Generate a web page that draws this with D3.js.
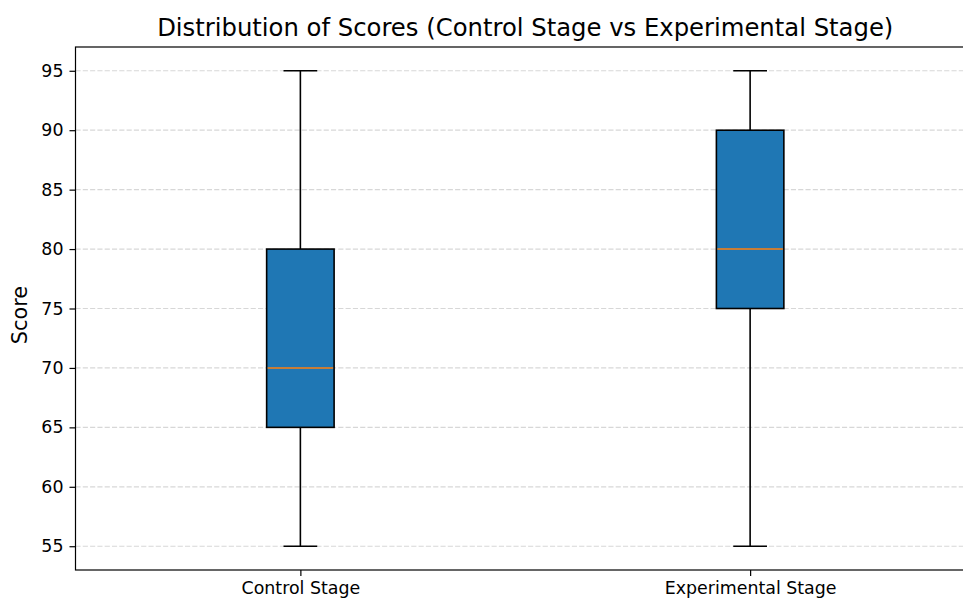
<!DOCTYPE html>
<html>
<head>
<meta charset="utf-8">
<script src="https://cdn.jsdelivr.net/npm/d3@7"></script>
<style>
  body { margin: 0; background: #fff; }
  svg { display: block; font-family: "DejaVu Sans", sans-serif; }
</style>
</head>
<body>
<svg id="chart" width="963" height="599"></svg>
<script>
const categories = ["Control Stage", "Experimental Stage"];
const mins    = [55, 55];
const q1s     = [65, 75];
const medians = [70, 80];
const q3s     = [80, 90];
const maxs    = [95, 95];
const yTicks  = [55, 60, 65, 70, 75, 80, 85, 90, 95];

const title = "Distribution of Scores (Control Stage vs Experimental Stage)";
const yLabel = "Score";

(function () {
const svg = d3.select("#chart");
const mLeft = 75.5, mRight = 975, mTop = 47, mBottom = 570;

const x = d3.scaleLinear().domain([0.5, 2.5]).range([mLeft, mRight]);
const y = d3.scaleLinear().domain([53, 97]).range([mBottom, mTop]);
const boxW = x(1.15) - x(1);
const capW = boxW / 2;
const lw = 1.6;

// grid
svg.append("g").selectAll("line").data(yTicks).join("line")
  .attr("x1", mLeft).attr("x2", mRight)
  .attr("y1", d => y(d)).attr("y2", d => y(d))
  .attr("stroke", "#b0b0b0").attr("stroke-opacity", 0.5)
  .attr("stroke-width", 1.2).attr("stroke-dasharray", "5.1,2.2");

const data = categories.map((c, i) => ({c, i, min: mins[i], q1: q1s[i], med: medians[i], q3: q3s[i], max: maxs[i]}));

const g = svg.append("g").selectAll("g").data(data).join("g");
// whiskers
g.append("line").attr("x1", d => x(d.i + 1)).attr("x2", d => x(d.i + 1))
  .attr("y1", d => y(d.q3)).attr("y2", d => y(d.max)).attr("stroke", "#000").attr("stroke-width", lw);
g.append("line").attr("x1", d => x(d.i + 1)).attr("x2", d => x(d.i + 1))
  .attr("y1", d => y(d.q1)).attr("y2", d => y(d.min)).attr("stroke", "#000").attr("stroke-width", lw);
// caps
g.append("line").attr("x1", d => x(d.i + 1) - capW / 2).attr("x2", d => x(d.i + 1) + capW / 2)
  .attr("y1", d => y(d.max)).attr("y2", d => y(d.max)).attr("stroke", "#000").attr("stroke-width", lw);
g.append("line").attr("x1", d => x(d.i + 1) - capW / 2).attr("x2", d => x(d.i + 1) + capW / 2)
  .attr("y1", d => y(d.min)).attr("y2", d => y(d.min)).attr("stroke", "#000").attr("stroke-width", lw);
// box
g.append("rect").attr("x", d => x(d.i + 1) - boxW / 2).attr("width", boxW)
  .attr("y", d => y(d.q3)).attr("height", d => y(d.q1) - y(d.q3))
  .attr("fill", "#1f77b4").attr("stroke", "#000").attr("stroke-width", lw);
// median
g.append("line").attr("x1", d => x(d.i + 1) - boxW / 2 + 1).attr("x2", d => x(d.i + 1) + boxW / 2 - 1)
  .attr("y1", d => y(d.med)).attr("y2", d => y(d.med)).attr("stroke", "#ff7f0e").attr("stroke-width", lw);

// spines
svg.append("rect").attr("x", mLeft).attr("y", mTop).attr("width", mRight - mLeft).attr("height", mBottom - mTop)
  .attr("fill", "none").attr("stroke", "#000").attr("stroke-width", 1.2);

// axes
const yAxis = d3.axisLeft(y).tickValues(yTicks).tickSize(6).tickPadding(6);
const yg = svg.append("g").attr("transform", `translate(${mLeft},0)`).call(yAxis);
yg.select(".domain").remove();
yg.selectAll("text").attr("font-size", 17.4).attr("fill", "#000").attr("font-family", "DejaVu Sans");
yg.selectAll("line").attr("stroke", "#000").attr("stroke-width", 1.2);

const xAxis = d3.axisBottom(x).tickValues([1, 2]).tickFormat((d, i) => categories[i]).tickSize(6).tickPadding(6);
const xg = svg.append("g").attr("transform", `translate(0,${mBottom})`).call(xAxis);
xg.select(".domain").remove();
xg.selectAll("text").attr("font-size", 17.4).attr("fill", "#000").attr("font-family", "DejaVu Sans");
xg.selectAll("line").attr("stroke", "#000").attr("stroke-width", 1.2);

// title
svg.append("text").attr("x", (mLeft + mRight) / 2).attr("y", 36)
  .attr("text-anchor", "middle").attr("font-size", 24.3).attr("fill", "#000").text(title);
// y label
svg.append("text").attr("transform", `translate(27,315) rotate(-90)`)
  .attr("text-anchor", "middle").attr("font-size", 20.8).attr("fill", "#000").text(yLabel);
})();
</script>
</body>
</html>
